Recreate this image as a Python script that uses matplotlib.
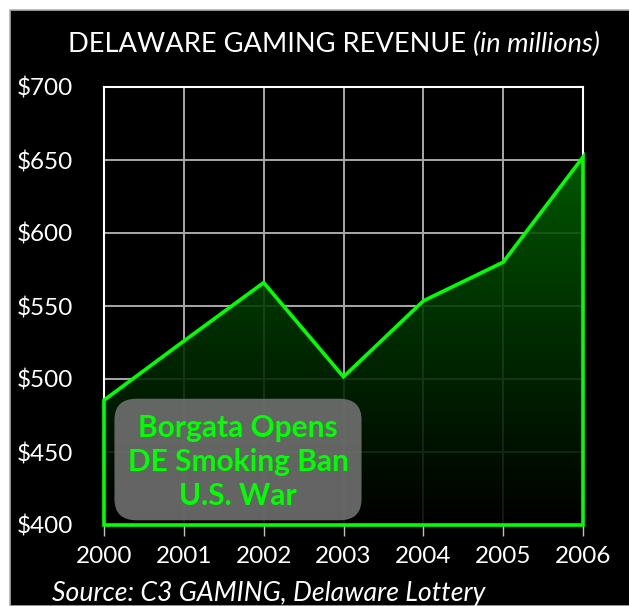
import numpy as np
import matplotlib.pyplot as plt
from matplotlib.patches import Rectangle, FancyBboxPatch, Polygon
from matplotlib.colors import LinearSegmentedColormap

# Delaware gaming revenue, millions of dollars
years = [2000, 2001, 2002, 2003, 2004, 2005, 2006]
revenue = [485.5, 526, 566, 501.5, 553.5, 580, 652]
y_ticks = [400, 450, 500, 550, 600, 650, 700]
note_lines = ['Borgata Opens', 'DE Smoking Ban', 'U.S. War']

green = '#00ff00'
font = 'Lato'

fig = plt.figure(figsize=(6.29, 6.06), dpi=100)
fig.patch.set_facecolor('white')

# black panel behind everything
panel = Rectangle((10 / 629, 0), 1.0, 1 - 10 / 606, transform=fig.transFigure,
                  facecolor='black', edgecolor='#b0b0b0', linewidth=1.2, zorder=-5)
fig.patches.append(panel)

ax = fig.add_axes([104 / 629, 1 - 525 / 606, (583 - 104) / 629, (525 - 87) / 606])
ax.set_facecolor('black')
ax.set_xlim(years[0], years[-1])
ax.set_ylim(y_ticks[0], y_ticks[-1])

ax.set_xticks(years)
ax.set_yticks(y_ticks)
ax.set_xticklabels([str(y) for y in years])
ax.set_yticklabels([f'${v}' for v in y_ticks])
ax.tick_params(axis='x', colors='#c0c0c0', length=8, width=1, pad=7, labelcolor='white', labelsize=17.5)
ax.tick_params(axis='y', length=0, pad=22, labelcolor='white', labelsize=17.5)
for lab in ax.get_xticklabels() + ax.get_yticklabels():
    lab.set_fontfamily(font)

ax.grid(True, color='#a8a8a8', linewidth=1.4)
ax.set_axisbelow(True)
for side in ['top', 'left', 'right', 'bottom']:
    ax.spines[side].set_color('white')
    ax.spines[side].set_linewidth(1.5)

# gradient fill under the line
verts = [(years[0], y_ticks[0])] + list(zip(years, revenue)) + [(years[-1], y_ticks[0])]
poly = Polygon(verts, closed=True, facecolor='none', edgecolor=green, linewidth=2.6,
               zorder=4, joinstyle='miter', clip_on=False)
ax.add_patch(poly)

cmap = LinearSegmentedColormap.from_list('g', ['#000000', '#003000', '#006400'])
grad = np.linspace(0, 1, 256).reshape(-1, 1)
img = ax.imshow(grad, cmap=cmap, origin='lower', aspect='auto', alpha=0.88,
                extent=[years[0], years[-1], y_ticks[0], max(revenue)], zorder=3)
img.set_clip_path(poly)

# annotation box
box = FancyBboxPatch((122 / 629, 1 - 513 / 606), (354 - 122) / 629, (513 - 406) / 606,
                     boxstyle='round,pad=0.012,rounding_size=0.035', transform=fig.transFigure,
                     facecolor='#727272', edgecolor='none', alpha=0.88, zorder=5)
fig.patches.append(box)
for i, line in enumerate(note_lines):
    fig.text(238 / 629, 1 - (428 + 34 * i) / 606, line, color=green, fontsize=21.5,
             fontweight='bold', family=font, ha='center', va='center', zorder=6)

t1 = fig.text(68 / 629, 1 - 44 / 606, 'DELAWARE GAMING REVENUE ', color='white',
              fontsize=19.6, family=font, ha='left', va='center')
fig.canvas.draw()
bb = t1.get_window_extent()
fig.text(bb.x1 / 629, 1 - 44 / 606, '(in millions)', color='white', fontsize=19.6,
         family=font, style='italic', ha='left', va='center')
fig.text(52 / 629, 1 - 594 / 606, 'Source: C3 GAMING, Delaware Lottery', color='white',
         fontsize=19.2, family=font, style='italic', ha='left', va='center')

fig.savefig('out.png', dpi=100, facecolor=fig.get_facecolor())
